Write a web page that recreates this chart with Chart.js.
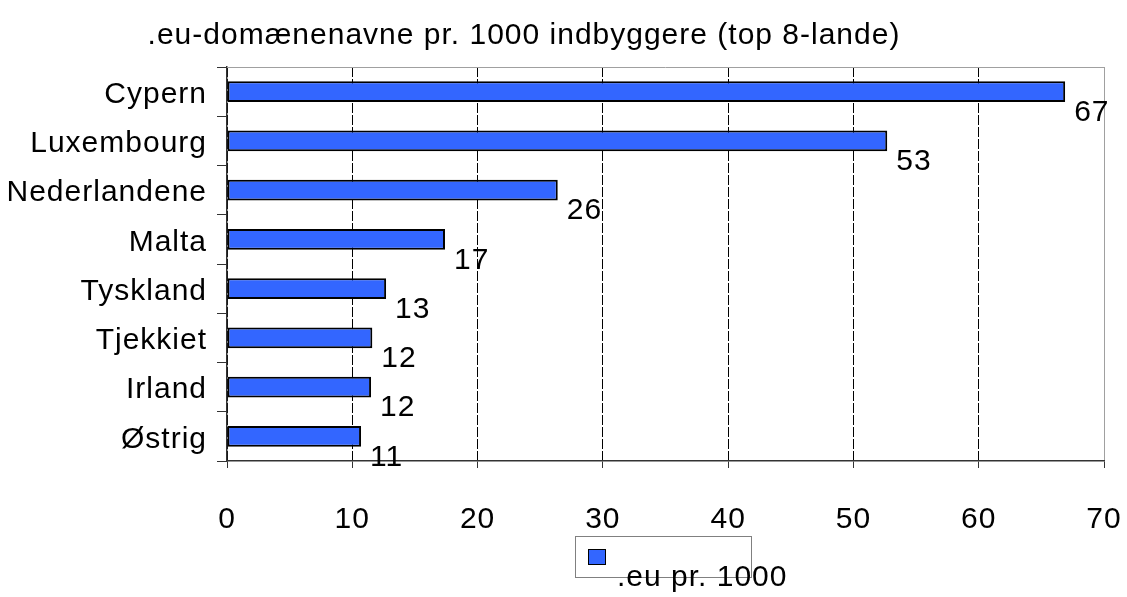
<!DOCTYPE html>
<html lang="da">
<head>
    <meta charset="UTF-8">
    <title>.eu-domænenavne</title>
    <script src="https://cdn.jsdelivr.net/npm/chart.js"></script>
    <style>
        body {
            margin: 0;
            background: #fff;
        }
        .chart-box {
            width: 1127px;
            height: 597px;
        }
    </style>
</head>
<body>
    <div class="chart-box">
        <canvas id="domainChart"></canvas>
    </div>
    <script>
        // data
        const titleText = '.eu-domænenavne pr. 1000 indbyggere (top 8-lande)';
        const seriesLabel = '.eu pr. 1000';
        const countries = ['Cypern', 'Luxembourg', 'Nederlandene', 'Malta', 'Tyskland', 'Tjekkiet', 'Irland', 'Østrig'];
        const perThousand = [66.9, 52.7, 26.4, 17.4, 12.7, 11.6, 11.5, 10.7];
        const xMin = 0, xMax = 70, xStep = 10;

        const FONT = '"Liberation Sans", Arial, sans-serif';
        const barColor = '#3366FF';

        // lidt bredere tekst, som i Excel-billedet
        const spacing = {
            id: 'spacing',
            beforeDraw(chart) {
                chart.ctx.letterSpacing = '1px';
            }
        };

        // titel, ramme, værdier og forklaring
        const extras = {
            id: 'extras',
            afterDraw(chart) {
                const ctx = chart.ctx;
                const area = chart.chartArea;
                ctx.save();
                ctx.letterSpacing = '1px';

                // grå ramme øverst
                ctx.strokeStyle = '#a0a0a0';
                ctx.lineWidth = 1;
                ctx.beginPath();
                ctx.moveTo(area.left, area.top + 0.5);
                ctx.lineTo(area.right, area.top + 0.5);
                ctx.stroke();

                ctx.fillStyle = '#000';
                ctx.font = '30px ' + FONT;

                // titel
                ctx.textAlign = 'center';
                ctx.textBaseline = 'middle';
                ctx.fillText(titleText, 524, 36);

                // værdier ved søjlerne
                ctx.textAlign = 'left';
                const meta = chart.getDatasetMeta(0);
                meta.data.forEach((bar, i) => {
                    const v = chart.data.datasets[0].data[i];
                    ctx.fillText(String(Math.round(v)), bar.x + 9, bar.y + 21);
                });

                // forklaring
                ctx.strokeStyle = '#808080';
                ctx.strokeRect(575.5, 536.5, 176, 41);
                ctx.fillStyle = barColor;
                ctx.fillRect(588, 549, 18, 16);
                ctx.strokeStyle = '#000';
                ctx.strokeRect(588.5, 549.5, 17, 15);
                ctx.fillStyle = '#000';
                ctx.fillText(chart.data.datasets[0].label, 617, 578);

                ctx.restore();
            }
        };

        new Chart(document.getElementById('domainChart'), {
            type: 'bar',
            data: {
                labels: countries,
                datasets: [{
                    label: seriesLabel,
                    data: perThousand,
                    backgroundColor: barColor,
                    borderColor: '#000',
                    borderWidth: 2,
                    borderSkipped: false,
                    categoryPercentage: 1,
                    barPercentage: 0.42
                }]
            },
            options: {
                indexAxis: 'y',
                responsive: true,
                maintainAspectRatio: false,
                animation: false,
                layout: {
                    padding: { left: 0, right: 23, top: 67, bottom: 0 }
                },
                plugins: {
                    legend: { display: false },
                    tooltip: { enabled: false }
                },
                scales: {
                    x: {
                        min: xMin,
                        max: xMax,
                        afterFit: (scale) => {
                            scale.height = 136;
                            scale.paddingLeft = 0;
                            scale.paddingRight = 0;
                        },
                        ticks: {
                            stepSize: xStep,
                            color: '#000',
                            padding: 34,
                            maxRotation: 0,
                            font: { family: FONT, size: 30 }
                        },
                        grid: {
                            color: (c) => c.tick && c.tick.value === xMax ? '#a0a0a0' : '#000',
                            lineWidth: 1,
                            tickLength: 7,
                            tickColor: '#333'
                        },
                        border: {
                            color: '#333',
                            width: 1.5,
                            dash: (c) => c.tick && c.tick.value === xMax ? [] : [10, 2]
                        }
                    },
                    y: {
                        afterFit: (scale) => { scale.width = 227; },
                        ticks: {
                            color: '#000',
                            padding: 10,
                            labelOffset: 3,
                            font: { family: FONT, size: 30 }
                        },
                        grid: {
                            drawOnChartArea: false,
                            tickLength: 10,
                            tickColor: '#333',
                            color: '#333'
                        },
                        border: {
                            color: '#333',
                            width: 1.5
                        }
                    }
                }
            },
            plugins: [spacing, extras]
        });
    </script>
</body>
</html>
